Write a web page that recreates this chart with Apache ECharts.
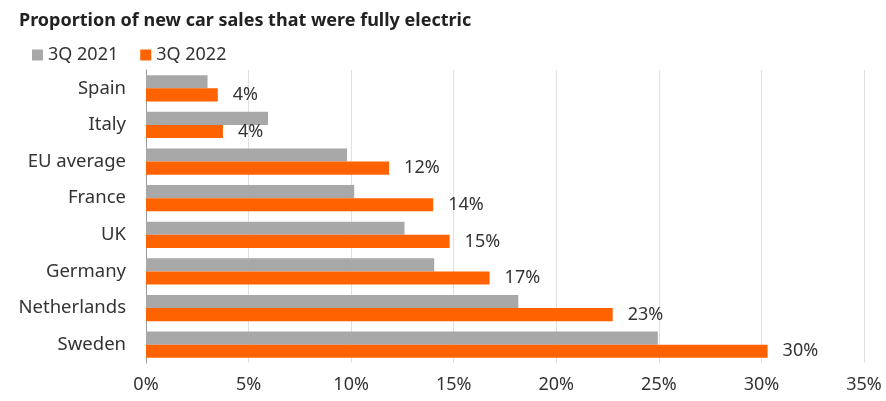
<!DOCTYPE html>
<html><head><meta charset="utf-8">
<script src="https://cdn.jsdelivr.net/npm/echarts@6/dist/echarts.min.js"></script>
<style>html,body{margin:0;padding:0;background:#fff}#c{width:886px;height:401px}</style>
</head><body><div id="c"></div>
<script>
const categories = ["Spain","Italy","EU average","France","UK","Germany","Netherlands","Sweden"];
const q3_2021 = [3.0, 5.95, 9.8, 10.15, 12.6, 14.05, 18.15, 24.95];
const q3_2022 = [3.5, 3.75, 11.85, 14.0, 14.8, 16.75, 22.75, 30.3];
const labels2022 = ["4%","4%","12%","14%","15%","17%","23%","30%"];
const xTicks = [0,5,10,15,20,25,30,35];
const FONT = "Noto Sans";
const chart = echarts.init(document.getElementById('c'));
chart.setOption({
  animation:false,
  textStyle:{fontFamily:FONT},
  title:{text:"Proportion of new car sales that were fully electric",left:14,top:7,
    textStyle:{fontFamily:FONT,fontSize:18,fontWeight:'bold',color:'#222'}},
  legend:{left:27,top:41,itemWidth:11,itemHeight:11,itemGap:22,icon:'rect',
    textStyle:{fontFamily:FONT,fontSize:18,color:'#333'},data:["3Q 2021","3Q 2022"]},
  grid:{left:146,right:22,top:70,bottom:38,containLabel:false},
  xAxis:{type:'value',min:0,max:35,interval:5,
    axisLine:{show:false},axisTick:{show:false},
    splitLine:{lineStyle:{color:'#e0e0e0',width:1}},
    axisLabel:{formatter:v=>v+'%',fontSize:18,color:'#333',margin:13,fontFamily:FONT}},
  yAxis:{type:'category',data:categories,inverse:true,
    axisLine:{lineStyle:{color:'#999'}},
    axisTick:{length:4,lineStyle:{color:'#999'}},
    axisLabel:{fontSize:18.5,color:'#333',margin:20,fontFamily:FONT}},
  series:[
    {name:"3Q 2021",type:'bar',data:q3_2021,itemStyle:{color:'#A8A8A8'},barGap:'0%',barCategoryGap:'28%'},
    {name:"3Q 2022",type:'bar',data:q3_2022,itemStyle:{color:'#FF6200'},barGap:'0%',barCategoryGap:'28%',
      label:{show:true,position:'right',distance:15,fontSize:18,color:'#333',fontFamily:FONT,
        formatter:p=>labels2022[p.dataIndex]}}
  ]
});
</script></body></html>
